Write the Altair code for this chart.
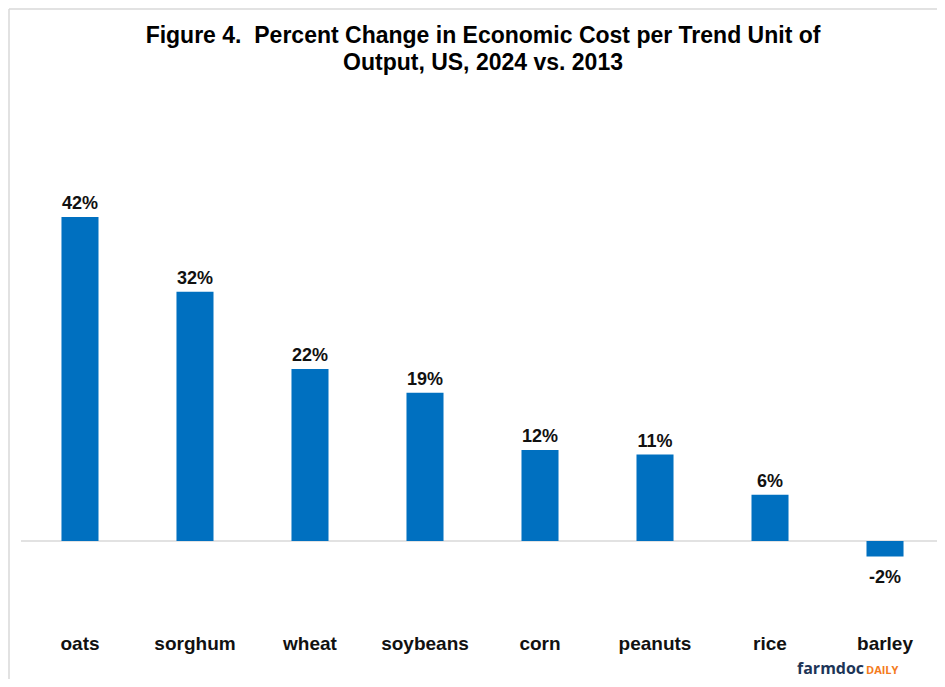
import altair as alt
import pandas as pd

crops = ["oats", "sorghum", "wheat", "soybeans", "corn", "peanuts", "rice", "barley"]
changes = [42.0, 32.3, 22.3, 19.2, 11.8, 11.2, 6.0, -2.0]
labels = ["42%", "32%", "22%", "19%", "12%", "11%", "6%", "-2%"]
title_lines = ["Figure 4.\u00a0 Percent Change in Economic Cost per Trend Unit of",
               "Output, US, 2024 vs. 2013"]

W, H = 929, 671
FONT = "Liberation Sans"
BLUE = "#0070C0"
GRID = "#d9d9d9"

df = pd.DataFrame({"crop": crops, "change": changes, "label": labels})
base = alt.Chart(df)
one = alt.Chart(pd.DataFrame({"z": [0]}))

x = alt.X("crop:N", sort=crops, axis=None,
          scale=alt.Scale(paddingInner=0.678, paddingOuter=0.378, align=0.615))
yscale = alt.Scale(domain=[-17.89, 69.09], nice=False, zero=False)
y = alt.Y("change:Q", axis=None, scale=yscale)

bars = base.mark_bar(color=BLUE).encode(x=x, y=y)

zero = one.mark_rule(color=GRID, strokeWidth=1.5).encode(
    y=alt.Y("z:Q", axis=None, scale=yscale), x=alt.value(13), x2=alt.value(934))

pos_lab = base.transform_filter("datum.change >= 0").mark_text(
    dy=-8, baseline="alphabetic", font=FONT, fontSize=18, fontWeight="bold", color="#111111"
).encode(x=x, y=y, text="label:N")

neg_lab = base.transform_filter("datum.change < 0").mark_text(
    dy=27, baseline="alphabetic", font=FONT, fontSize=18, fontWeight="bold", color="#111111"
).encode(x=x, y=y, text="label:N")

cat_lab = base.mark_text(
    baseline="alphabetic", font=FONT, fontSize=19, fontWeight="bold", color="#111111"
).encode(x=x, y=alt.value(642), text="crop:N")

t1 = one.mark_text(baseline="alphabetic", font=FONT, fontSize=23, fontWeight="bold",
                   color="#000000", text=title_lines[0]).encode(
    x=alt.value(475), y=alt.value(35))
t2 = one.mark_text(baseline="alphabetic", font=FONT, fontSize=23, fontWeight="bold",
                   color="#000000", text=title_lines[1]).encode(
    x=alt.value(475), y=alt.value(62))

frame_top = one.mark_rule(color=GRID, strokeWidth=1.5).encode(
    x=alt.value(1), x2=alt.value(W), y=alt.value(1))
frame_left = one.mark_rule(color=GRID, strokeWidth=1.5).encode(
    x=alt.value(1), y=alt.value(1), y2=alt.value(H))

logo1 = one.mark_text(align="left", baseline="alphabetic", font="Open Sans", fontSize=16,
                      fontWeight="bold", color="#1d3557", text="farmdoc").encode(
    x=alt.value(789), y=alt.value(666))
logo2 = one.mark_text(align="left", baseline="alphabetic", font="Open Sans", fontSize=11,
                      fontWeight="bold", color="#f47b20", text="DAILY").encode(
    x=alt.value(858), y=alt.value(666))

chart = alt.layer(frame_top, frame_left, zero, bars, pos_lab, neg_lab, cat_lab,
                  t1, t2, logo1, logo2).properties(
    width=W, height=H, padding=0, autosize=alt.AutoSizeParams(type="none"),
    background="white"
).configure_view(stroke=None)

chart.save("out.html", embed_options={"renderer": "svg", "actions": False})
